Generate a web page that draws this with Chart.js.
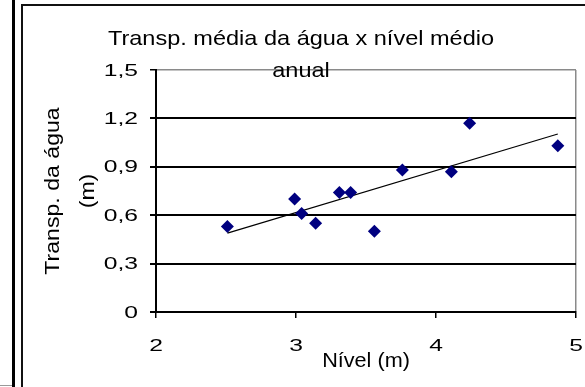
<!DOCTYPE html>
<html lang="pt">
<head>
    <meta charset="UTF-8">
    <title>Transp. média da água x nível médio anual</title>
    <style>
        body {
            margin: 0;
            background: #fff;
            font-family: "Liberation Sans", Arial, sans-serif;
        }
        .wrap {
            position: relative;
            width: 585px;
            height: 387px;
            overflow: hidden;
        }
        .bar {
            position: absolute;
            left: 12px;
            top: 0;
            width: 3px;
            height: 387px;
            background: #000;
        }
        .frame {
            position: absolute;
            left: 21px;
            top: 4px;
            width: 580px;
            height: 400px;
            border-left: 2px solid #111;
            border-top: 2px solid #111;
        }
        .foot {
            position: absolute;
            left: 0;
            top: 385px;
            width: 12px;
            height: 1px;
            background: #999;
        }
        canvas {
            position: absolute;
            left: 0;
            top: 0;
        }
    </style>
</head>
<body>
    <div class="wrap">
        <div class="bar"></div>
        <div class="frame"></div>
        <div class="foot"></div>
        <canvas id="myChart" width="585" height="387"></canvas>
    </div>

    <script src="https://cdn.jsdelivr.net/npm/chart.js"></script>
    <script>
        // nível médio anual (m) x transparência média da água (m)
        const nivel = [2.51, 2.99, 3.04, 3.14, 3.31, 3.39, 3.56, 3.76, 4.11, 4.24, 4.87];
        const transp = [0.53, 0.70, 0.61, 0.55, 0.74, 0.74, 0.50, 0.88, 0.87, 1.17, 1.03];
        const yTicks = [0, 0.3, 0.6, 0.9, 1.2, 1.5];
        const yLabels = ['0', '0,3', '0,6', '0,9', '1,2', '1,5'];
        const xTicks = [2, 3, 4, 5];
        const xLabels = ['2', '3', '4', '5'];
        const titleLines = ['Transp. média da água x nível médio', 'anual'];
        const yTitle = ['Transp. da água', '(m)'];
        const xTitle = 'Nível (m)';

        const font = '"Liberation Sans", Arial, sans-serif';

        // linha de tendência (mínimos quadrados)
        const n = nivel.length;
        const mx = nivel.reduce((a, b) => a + b, 0) / n;
        const my = transp.reduce((a, b) => a + b, 0) / n;
        let sxy = 0, sxx = 0;
        for (let i = 0; i < n; i++) {
            sxy += (nivel[i] - mx) * (transp[i] - my);
            sxx += (nivel[i] - mx) * (nivel[i] - mx);
        }
        const slope = sxy / sxx;
        const x0 = Math.min(...nivel), x1 = Math.max(...nivel);
        const trend = [
            { x: x0, y: my + slope * (x0 - mx) },
            { x: x1, y: my + slope * (x1 - mx) }
        ];

        // texto esticado na horizontal, como no gráfico original
        function txt(ctx, s, x, y, size, sx, align, base) {
            ctx.save();
            ctx.translate(x, y);
            ctx.scale(sx, 1);
            ctx.font = size + 'px ' + font;
            ctx.textAlign = align;
            ctx.textBaseline = base;
            ctx.fillText(s, 0, 0);
            ctx.restore();
        }

        const textPlugin = {
            id: 'texts',
            afterDraw(chart) {
                const ctx = chart.ctx;
                const xs = chart.scales.x, ys = chart.scales.y;
                const a = chart.chartArea;
                ctx.save();
                ctx.fillStyle = '#000';
                yTicks.forEach((v, i) => txt(ctx, yLabels[i], a.left - 18, ys.getPixelForValue(v) + 1, 17, 1.45, 'right', 'middle'));
                xTicks.forEach((v, i) => txt(ctx, xLabels[i], xs.getPixelForValue(v), 346, 17, 1.45, 'center', 'middle'));
                txt(ctx, titleLines[0], 301, 45, 21, 1.12, 'center', 'alphabetic');
                txt(ctx, titleLines[1], 301, 77, 21, 1.12, 'center', 'alphabetic');
                txt(ctx, xTitle, (a.left + a.right) / 2, 367, 21, 1.03, 'center', 'alphabetic');
                const cy = (a.top + a.bottom) / 2;
                ctx.translate(0, cy);
                ctx.rotate(-Math.PI / 2);
                txt(ctx, yTitle[0], 0, 53, 21, 1.1, 'center', 'middle');
                txt(ctx, yTitle[1], 0, 88, 21, 1.1, 'center', 'middle');
                ctx.restore();
            }
        };

        const ctx = document.getElementById('myChart').getContext('2d');
        new Chart(ctx, {
            type: 'scatter',
            data: {
                datasets: [{
                    label: 'Transp.',
                    data: nivel.map((v, i) => ({ x: v, y: transp[i] })),
                    pointStyle: 'rectRot',
                    pointRadius: 6.5,
                    pointBackgroundColor: '#000080',
                    pointBorderColor: '#000080',
                    pointBorderWidth: 0,
                    order: 1
                }, {
                    label: 'Tendência',
                    type: 'line',
                    data: trend,
                    borderColor: '#000',
                    borderWidth: 1.2,
                    pointRadius: 0,
                    fill: false,
                    order: 2
                }]
            },
            options: {
                responsive: false,
                animation: false,
                layout: { padding: { top: 70, right: 9, left: 0, bottom: 0 } },
                plugins: {
                    legend: { display: false },
                    tooltip: { enabled: false },
                    title: { display: false }
                },
                scales: {
                    x: {
                        type: 'linear',
                        min: 2,
                        max: 5,
                        afterBuildTicks: s => { s.ticks = xTicks.map(v => ({ value: v })); },
                        afterFit: s => { s.height = 75; },
                        ticks: { display: false },
                        grid: {
                            color: c => (c.tick && c.tick.value === 5) ? '#8a8a8a' : 'rgba(0,0,0,0)',
                            tickColor: '#000',
                            tickLength: 6,
                            lineWidth: 1.5
                        },
                        border: { color: '#000', width: 2 }
                    },
                    y: {
                        min: 0,
                        max: 1.5,
                        afterBuildTicks: s => { s.ticks = yTicks.map(v => ({ value: v })); },
                        afterFit: s => { s.width = 156; },
                        ticks: { display: false },
                        grid: {
                            color: c => (c.tick && c.tick.value === 1.5) ? '#8a8a8a' : '#000',
                            tickColor: '#000',
                            tickLength: 6,
                            lineWidth: c => (c.tick && c.tick.value === 1.5) ? 1.5 : 2
                        },
                        border: { color: '#000', width: 2 }
                    }
                }
            },
            plugins: [textPlugin]
        });
    </script>
</body>
</html>
